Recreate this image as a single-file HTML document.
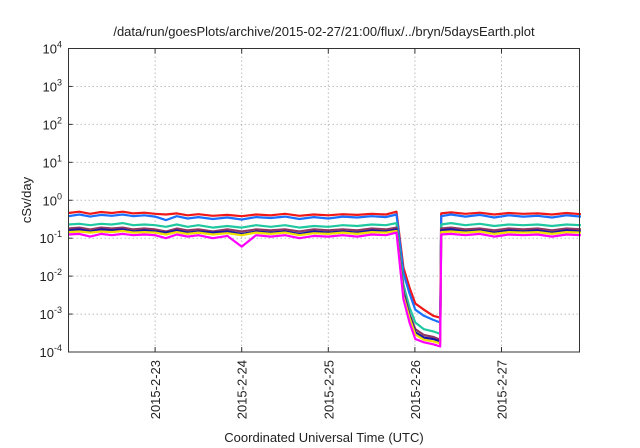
<!DOCTYPE html>
<html><head><meta charset="utf-8"><style>
html,body{margin:0;padding:0;background:#fff;}
svg{display:block;font-family:"Liberation Sans",sans-serif;}
</style></head><body>
<svg id="chart" width="640" height="448" viewBox="0 0 640 448" xmlns="http://www.w3.org/2000/svg">
<text x="324" y="36" font-size="13" text-anchor="middle" fill="#222">/data/run/goesPlots/archive/2015-02-27/21:00/flux/../bryn/5daysEarth.plot</text>
<g id="grid"></g>
<g id="series"></g>
<rect x="68.5" y="48.5" width="511" height="303.5" fill="none" stroke="#333" stroke-width="1"/>
<g id="axes"></g>
<text transform="translate(31,200) rotate(-90)" font-size="13" text-anchor="middle" fill="#222">cSv/day</text>
<text x="324" y="442" font-size="13" text-anchor="middle" fill="#222">Coordinated Universal Time (UTC)</text>
</svg>
<script>
const dayLabels = ["2015-2-23","2015-2-24","2015-2-25","2015-2-26","2015-2-27"];
const yExps = [-4,-3,-2,-1,0,1,2,3,4];
const hours = [0,3,6,9,12,15,18,21,24,27,30,33,36,40,44,48,52,56,60,64,68,72,76,80,84,88,90.9,92.8,94.5,96.1,98.5,101.1,103,103.3,106,110,114,118,122,126,130,134,138,142];
const seriesRed     = [0.46,0.50,0.44,0.49,0.46,0.50,0.45,0.47,0.44,0.42,0.45,0.40,0.43,0.39,0.41,0.38,0.42,0.40,0.44,0.39,0.42,0.40,0.43,0.41,0.44,0.42,0.50,0.017,0.005,0.0019,0.0013,0.0009,0.0008,0.45,0.48,0.44,0.47,0.42,0.46,0.44,0.45,0.42,0.46,0.43];
const seriesBlue    = [0.38,0.42,0.37,0.41,0.39,0.42,0.38,0.40,0.37,0.30,0.38,0.33,0.36,0.32,0.35,0.31,0.36,0.34,0.37,0.32,0.36,0.33,0.37,0.35,0.38,0.36,0.42,0.012,0.0035,0.0013,0.0009,0.0007,0.0006,0.38,0.42,0.37,0.41,0.35,0.40,0.37,0.39,0.35,0.40,0.37];
const seriesTeal    = [0.23,0.24,0.22,0.24,0.23,0.25,0.22,0.23,0.22,0.20,0.23,0.20,0.22,0.19,0.21,0.19,0.22,0.20,0.22,0.19,0.21,0.20,0.22,0.21,0.23,0.22,0.25,0.006,0.0015,0.0006,0.0004,0.00035,0.0003,0.23,0.25,0.22,0.24,0.21,0.23,0.22,0.23,0.21,0.23,0.22];
const seriesMaroon  = [0.18,0.19,0.17,0.19,0.18,0.19,0.17,0.18,0.17,0.15,0.18,0.16,0.17,0.15,0.17,0.15,0.17,0.16,0.17,0.15,0.17,0.16,0.17,0.16,0.18,0.17,0.19,0.004,0.0010,0.0004,0.00028,0.00025,0.00021,0.18,0.19,0.17,0.18,0.16,0.18,0.17,0.18,0.16,0.18,0.17];
const seriesNavy    = [0.16,0.17,0.15,0.17,0.16,0.17,0.15,0.16,0.15,0.14,0.16,0.14,0.15,0.14,0.15,0.13,0.15,0.14,0.15,0.13,0.15,0.14,0.15,0.14,0.16,0.15,0.17,0.0035,0.0009,0.00033,0.00024,0.00022,0.00019,0.16,0.17,0.15,0.16,0.14,0.16,0.15,0.16,0.14,0.16,0.15];
const seriesYellow  = [0.145,0.15,0.14,0.15,0.145,0.155,0.14,0.145,0.14,0.125,0.145,0.13,0.14,0.125,0.135,0.12,0.14,0.13,0.14,0.12,0.135,0.13,0.14,0.13,0.145,0.14,0.155,0.003,0.0008,0.00029,0.00021,0.00019,0.00017,0.145,0.15,0.14,0.15,0.13,0.145,0.14,0.145,0.13,0.145,0.14];
const seriesMagenta = [0.125,0.13,0.11,0.13,0.12,0.13,0.12,0.125,0.12,0.10,0.125,0.11,0.12,0.10,0.115,0.06,0.12,0.11,0.12,0.10,0.115,0.11,0.12,0.11,0.125,0.12,0.14,0.0025,0.0006,0.00022,0.00018,0.00016,0.00014,0.125,0.13,0.12,0.13,0.11,0.125,0.12,0.125,0.11,0.125,0.12];
const seriesList = [seriesRed,seriesBlue,seriesTeal,seriesMaroon,seriesNavy,seriesYellow,seriesMagenta];
const seriesNames = ["red","blue","teal","maroon","navy","yellow","magenta"];
const seriesColors = ["#f01818","#1a70ff","#20c8a0","#903860","#1818a8","#f0e000","#ff00ff"];

const NS="http://www.w3.org/2000/svg";
const X0=68.5, DAY=86.6, YTOP=48.5, YBOT=352, YMIN=-4, YMAX=4;
function xs(h){return X0+h/24*DAY;}
function ys(v){return YBOT-(Math.log10(v)-YMIN)/(YMAX-YMIN)*(YBOT-YTOP);}
const grid=document.getElementById('grid'), axes=document.getElementById('axes'), ser=document.getElementById('series');

yExps.forEach(e=>{
  const y=ys(Math.pow(10,e));
  if(e>YMIN&&e<YMAX){
    const g=document.createElementNS(NS,'line');
    
    
    g.setAttribute('x1',X0);g.setAttribute('x2',579.5);g.setAttribute('y1',y);g.setAttribute('y2',y);
    g.setAttribute('stroke','#bbb');g.setAttribute('stroke-dasharray','1.5,2.5');
    grid.appendChild(g);
  }
  const t=document.createElementNS(NS,'text');
  
  
  t.setAttribute('x',62);t.setAttribute('y',y+5);t.setAttribute('text-anchor','end');
  t.setAttribute('font-size','13');t.setAttribute('fill','#222');
  t.innerHTML='10<tspan dy="-6" font-size="9">'+e+'</tspan>';
  axes.appendChild(t);
  const tk=document.createElementNS(NS,'line');
  
  
  tk.setAttribute('x1',X0);tk.setAttribute('x2',X0+4);tk.setAttribute('y1',y);tk.setAttribute('y2',y);tk.setAttribute('stroke','#333');
  axes.appendChild(tk);
});
dayLabels.forEach((d,i)=>{
  const x=xs((i+1)*24);
  const g=document.createElementNS(NS,'line');
  
  
  g.setAttribute('x1',x);g.setAttribute('x2',x);g.setAttribute('y1',YTOP);g.setAttribute('y2',YBOT);
  g.setAttribute('stroke','#bbb');g.setAttribute('stroke-dasharray','1.5,2.5');
  grid.appendChild(g);
  [[YBOT,YBOT-5],[YTOP,YTOP+5]].forEach(p=>{
    const tk=document.createElementNS(NS,'line');
    
    
    tk.setAttribute('x1',x);tk.setAttribute('x2',x);tk.setAttribute('y1',p[0]);tk.setAttribute('y2',p[1]);tk.setAttribute('stroke','#333');
    axes.appendChild(tk);
  });
  const t=document.createElementNS(NS,'text');
  
  
  t.setAttribute('transform','translate('+(x+5)+',360) rotate(-90)');
  t.setAttribute('text-anchor','end');t.setAttribute('font-size','13');t.setAttribute('fill','#222');
  t.textContent=d;
  axes.appendChild(t);
});
seriesList.forEach((vals,i)=>{
  const p=document.createElementNS(NS,'polyline');
  
  
  p.setAttribute('points',vals.map((v,j)=>xs(hours[j]).toFixed(1)+','+ys(v).toFixed(1)).join(' '));
  p.setAttribute('fill','none');p.setAttribute('stroke',seriesColors[i]);p.setAttribute('stroke-width','2.2');
  p.setAttribute('stroke-linejoin','round');
  ser.appendChild(p);
});
</script>
</body></html>
